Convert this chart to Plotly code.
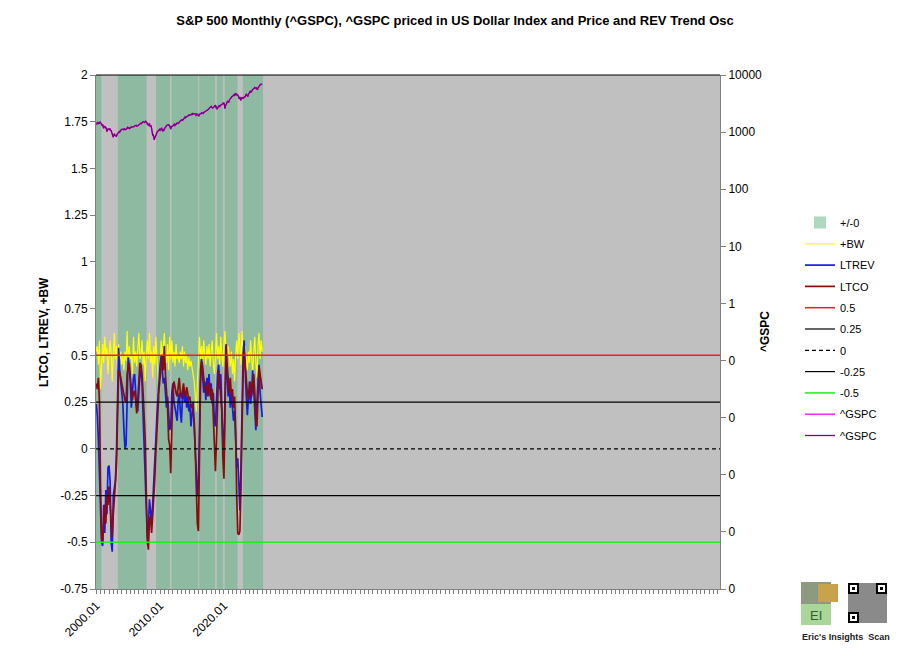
import plotly.graph_objects as go

# ---------------- DATA ----------------
# S&P 500 monthly closes, 2000.01 .. 2026.01 (month index 0 = 2000.01)
spx = [
    1394, 1366, 1499, 1452, 1421, 1455, 1431, 1518, 1437, 1429, 1315, 1320,
    1366, 1240, 1160, 1249, 1256, 1224, 1211, 1134, 1041, 1060, 1139, 1148,
    1130, 1107, 1147, 1077, 1067, 990, 912, 916, 815, 886, 936, 880,
    856, 841, 848, 917, 964, 975, 990, 1008, 996, 1051, 1058, 1112,
    1131, 1145, 1126, 1107, 1121, 1141, 1102, 1104, 1115, 1130, 1174, 1212,
    1181, 1204, 1181, 1157, 1192, 1191, 1234, 1220, 1229, 1207, 1249, 1248,
    1280, 1281, 1295, 1311, 1270, 1270, 1277, 1304, 1336, 1378, 1401, 1418,
    1438, 1407, 1421, 1482, 1531, 1503, 1455, 1474, 1527, 1549, 1481, 1468,
    1379, 1331, 1323, 1386, 1400, 1280, 1267, 1283, 1166, 969, 896, 903,
    826, 735, 798, 873, 919, 919, 987, 1021, 1057, 1036, 1096, 1115,
    1074, 1104, 1169, 1187, 1089, 1031, 1102, 1049, 1141, 1183, 1181, 1258,
    1286, 1327, 1326, 1364, 1345, 1321, 1292, 1219, 1131, 1253, 1247, 1258,
    1312, 1366, 1408, 1398, 1310, 1362, 1379, 1407, 1441, 1412, 1416, 1426,
    1498, 1515, 1569, 1598, 1631, 1606, 1686, 1633, 1682, 1757, 1806, 1848,
    1783, 1859, 1872, 1884, 1924, 1960, 1931, 2003, 1972, 2018, 2068, 2059,
    1995, 2105, 2068, 2086, 2107, 2063, 2104, 1972, 1920, 2079, 2080, 2044,
    1940, 1932, 2060, 2065, 2097, 2099, 2174, 2171, 2168, 2126, 2199, 2239,
    2279, 2364, 2363, 2384, 2412, 2423, 2470, 2472, 2519, 2575, 2648, 2674,
    2824, 2714, 2641, 2648, 2705, 2718, 2816, 2902, 2914, 2712, 2760, 2507,
    2704, 2784, 2834, 2946, 2752, 2942, 2980, 2926, 2977, 3038, 3141, 3231,
    3226, 2954, 2585, 2912, 3044, 3100, 3271, 3500, 3363, 3270, 3622, 3756,
    3714, 3811, 3973, 4181, 4204, 4298, 4395, 4523, 4308, 4605, 4567, 4766,
    4516, 4374, 4530, 4132, 4132, 3785, 4130, 3955, 3586, 3872, 4080, 3840,
    4077, 3970, 4109, 4169, 4180, 4450, 4589, 4508, 4288, 4194, 4568, 4770,
    4846, 5096, 5254, 5036, 5278, 5460, 5522, 5648, 5762, 5705, 6032, 5882,
    6041, 5955, 5612, 5569, 5912, 6205, 6339, 6460, 6688, 6840, 6849, 6846,
    6939,
]

# Oscillators read every 2 months (month 0, 2, 4, ...)
ltrev = [
    0.24, 0.18, 0.05, -0.12, -0.35, -0.50, -0.52, -0.30, -0.45, -0.22,
    -0.35, -0.10, -0.09, -0.17, -0.50, -0.55, -0.25, -0.20, -0.17, -0.02,
    0.30, 0.54, 0.42, 0.36, 0.30, 0.24, 0.10, 0.00, 0.02, 0.30,
    0.49, 0.44, 0.36, 0.22, 0.30, 0.38, 0.40, 0.30, 0.22, 0.20,
    0.30, 0.40, 0.42, 0.35, 0.18, 0.04, -0.10, -0.30, -0.48, -0.42,
    -0.27, -0.33, -0.40, -0.30, -0.20, -0.08, 0.05, 0.18, 0.28, 0.36,
    0.45, 0.50, 0.42, 0.35, 0.38, 0.30, 0.22, 0.28, 0.15, 0.10,
    0.12, 0.30, 0.35, 0.25, 0.22, 0.18, 0.15, 0.26, 0.30, 0.20,
    0.14, 0.27, 0.32, 0.25, 0.30, 0.22, 0.28, 0.20, 0.24, 0.12,
    0.18, 0.25, 0.13, 0.02, -0.15, -0.25, -0.18, 0.15, 0.42, 0.48,
    0.40, 0.30, 0.36, 0.26, 0.38, 0.32, 0.40, 0.28, 0.35, 0.24,
    0.30, 0.15, 0.12, 0.30, 0.40, 0.45, 0.32, 0.40, 0.22, 0.05,
    0.00, 0.35, 0.55, 0.38, 0.28, 0.34, 0.22, 0.30, 0.24, 0.15,
    0.20, 0.05, -0.10, -0.05, -0.25, -0.33, -0.10, 0.30, 0.50, 0.58,
    0.40, 0.28, 0.18, 0.30, 0.36, 0.24, 0.30, 0.42, 0.30, 0.14,
    0.10, 0.25, 0.40, 0.45, 0.30, 0.20, 0.17,
]
ltco = [
    0.35, 0.32, 0.38, 0.25, -0.20, -0.48, -0.50, -0.35, -0.30, -0.40,
    -0.25, -0.30, -0.20, -0.30, -0.42, -0.47, -0.35, -0.22, -0.18, -0.08,
    0.15, 0.42, 0.41, 0.38, 0.35, 0.33, 0.28, 0.26, 0.25, 0.40,
    0.44, 0.46, 0.38, 0.33, 0.26, 0.30, 0.31, 0.26, 0.19, 0.26,
    0.38, 0.46, 0.45, 0.40, 0.30, 0.17, 0.05, -0.22, -0.50, -0.54,
    -0.38, -0.36, -0.45, -0.36, -0.28, -0.16, -0.02, 0.12, 0.22, 0.32,
    0.38, 0.45, 0.50, 0.42, 0.55, 0.40, 0.30, 0.22, 0.05, 0.02,
    -0.13, 0.15, 0.32, 0.36, 0.32, 0.30, 0.28, 0.35, 0.38, 0.30,
    0.27, 0.31, 0.35, 0.30, 0.28, 0.33, 0.30, 0.26, 0.28, 0.22,
    0.24, 0.20, 0.15, 0.00, -0.20, -0.40, -0.44, 0.05, 0.35, 0.47,
    0.44, 0.38, 0.32, 0.30, 0.34, 0.28, 0.36, 0.30, 0.26, 0.32,
    0.20, 0.05, -0.12, 0.05, 0.30, 0.42, 0.36, 0.30, 0.20, -0.05,
    -0.16, 0.20, 0.56, 0.45, 0.35, 0.30, 0.38, 0.28, 0.32, 0.22,
    0.28, 0.10, -0.25, -0.45, -0.46, -0.44, -0.20, 0.15, 0.40, 0.52,
    0.45, 0.35, 0.30, 0.26, 0.32, 0.36, 0.28, 0.34, 0.40, 0.30,
    0.15, 0.12, 0.30, 0.44, 0.40, 0.35, 0.32,
]
plus_bw = [
    0.52, 0.55, 0.45, 0.58, 0.32, 0.50, 0.56, 0.46, 0.60, 0.50,
    0.54, 0.40, 0.48, 0.58, 0.52, 0.36, 0.50, 0.62, 0.48, 0.55,
    0.42, 0.56, 0.48, 0.52, 0.45, 0.50, 0.42, 0.52, 0.47, 0.63,
    0.45, 0.55, 0.48, 0.50, 0.40, 0.60, 0.46, 0.52, 0.44, 0.55,
    0.62, 0.48, 0.50, 0.58, 0.45, 0.52, 0.36, 0.50, 0.58, 0.48,
    0.62, 0.46, 0.52, 0.38, 0.55, 0.45, 0.60, 0.50, 0.35, 0.28,
    0.45, 0.58, 0.48, 0.55, 0.62, 0.50, 0.46, 0.56, 0.42, 0.60,
    0.48, 0.58, 0.46, 0.52, 0.44, 0.56, 0.48, 0.50, 0.46, 0.52,
    0.48, 0.55, 0.44, 0.52, 0.46, 0.50, 0.42, 0.49, 0.44, 0.47,
    0.42, 0.40, 0.36, 0.28, 0.20, 0.35, 0.52, 0.60, 0.48, 0.55,
    0.46, 0.58, 0.50, 0.45, 0.55, 0.48, 0.56, 0.44, 0.52, 0.58,
    0.46, 0.40, 0.50, 0.62, 0.48, 0.55, 0.45, 0.60, 0.50, 0.44,
    0.56, 0.63, 0.50, 0.46, 0.55, 0.48, 0.44, 0.52, 0.40, 0.48,
    0.36, 0.50, 0.58, 0.48, 0.62, 0.55, 0.45, 0.63, 0.50, 0.44,
    0.55, 0.48, 0.42, 0.52, 0.46, 0.58, 0.48, 0.40, 0.52, 0.60,
    0.46, 0.38, 0.55, 0.62, 0.48, 0.58, 0.52,
]

# Positive-regime ("+/-0") periods, month indices (inclusive)
band_start = [0, 41, 113, 142, 194, 227, 242, 276]
band_end = [9, 94, 138, 191, 223, 238, 265, 313]

# Horizontal reference levels
ref_names = ["0.5", "0.25", "0", "-0.25", "-0.5"]
ref_levels = [0.5, 0.25, 0.0, -0.25, -0.5]

# Tick labels
x_tick_months = [0, 120, 240]
x_tick_labels = ["2000.01", "2010.01", "2020.01"]
y_tick_vals = [2, 1.75, 1.5, 1.25, 1, 0.75, 0.5, 0.25, 0, -0.25, -0.5, -0.75]
y_tick_text = ["2", "1.75", "1.5", "1.25", "1", "0.75", "0.5", "0.25", "0", "-0.25", "-0.5", "-0.75"]
y2_tick_vals = [1e4, 1e3, 1e2, 1e1, 1, 1e-1, 1e-2, 1e-3, 1e-4, 1e-5]
y2_tick_text = ["10000", "1000", "100", "10", "1", "0", "0", "0", "0", "0"]

# ---------------- FIGURE ----------------
FONT = "Arial, Liberation Sans, sans-serif"
X_LO, X_HI = -0.5, 1172.5
Y_LO, Y_HI = -0.75, 2.0

# page body adds an 8px offset; margins below compensate
ML, MR, MT, MB = 88, 198, 67, 78
PW, PH = 910 - ML - MR, 659 - MT - MB          # 624 x 514
OX, OY = ML + 8, MT + 8                         # on-screen plot origin (96, 75)


def px(xs):
    return (xs - OX) / PW


def py(ys):
    return (OY + PH - ys) / PH


spx_months = list(range(len(spx)))
osc_months = list(range(0, 2 * len(ltrev), 2))

fig = go.Figure()

centers = [(s + e) / 2 for s, e in zip(band_start, band_end)]
widths = [e - s + 1 for s, e in zip(band_start, band_end)]
fig.add_trace(go.Bar(
    x=centers, y=[Y_HI - Y_LO] * len(centers), base=[Y_LO] * len(centers),
    width=widths, name="+/-0", legendgroup="g0",
    marker=dict(color="rgba(90,180,130,0.5)", line=dict(width=0)),
    hoverinfo="skip",
))

fig.add_trace(go.Scatter(x=osc_months, y=plus_bw, mode="lines", name="+BW", legendgroup="g1",
                         line=dict(color="#FFFF00", width=1.2)))
fig.add_trace(go.Scatter(x=osc_months, y=ltrev, mode="lines", name="LTREV", legendgroup="g2",
                         line=dict(color="#1A1AE6", width=1.7)))
fig.add_trace(go.Scatter(x=osc_months, y=ltco, mode="lines", name="LTCO", legendgroup="g3",
                         line=dict(color="#8B0A0A", width=1.7)))

ref_styles = [("#FF1A1A", "solid", 1.5), ("#000000", "solid", 1.2), ("#000000", "4px,3px", 1.2),
              ("#000000", "solid", 1.2), ("#1AF01A", "solid", 1.5)]
for i, (nm, lv) in enumerate(zip(ref_names, ref_levels)):
    col, dash, wd = ref_styles[i]
    fig.add_trace(go.Scatter(x=[X_LO, X_HI], y=[lv, lv], mode="lines", name=nm,
                             legendgroup="r%d" % i,
                             line=dict(color=col, width=wd, dash=dash)))

fig.add_trace(go.Scatter(x=spx_months, y=spx, mode="lines", name="^GSPC", legendgroup="s1",
                         yaxis="y2", line=dict(color="#FF00FF", width=1.3)))
fig.add_trace(go.Scatter(x=spx_months, y=spx, mode="lines", name="^GSPC", legendgroup="s2",
                         yaxis="y2", line=dict(color="#800080", width=1.3)))

x_tickvals = list(range(0, int(X_HI), 8))
x_ticktext = [x_tick_labels[x_tick_months.index(v)] if v in x_tick_months else "" for v in x_tickvals]

tickfont = dict(size=12, family=FONT, color="black")
fig.update_layout(
    width=910, height=659,
    margin=dict(l=ML, r=MR, t=MT, b=MB, autoexpand=False),
    paper_bgcolor="white", plot_bgcolor="#C0C0C0",
    font=dict(family=FONT, size=12, color="black"),
    title=dict(text="<b>S&P 500 Monthly (^GSPC), ^GSPC priced in US Dollar Index and Price and REV Trend Osc</b>",
               x=(455 - 8) / 910, xref="container", xanchor="center",
               y=1 - (20 - 8) / 659, yanchor="middle",
               font=dict(family=FONT, size=13, color="black")),
    showlegend=True,
    legend=dict(x=px(800), y=py(208), xanchor="left", yanchor="top", bgcolor="rgba(0,0,0,0)",
                font=dict(family=FONT, size=11, color="black"), tracegroupgap=2.3,
                itemwidth=30, traceorder="grouped"),
    barmode="overlay",
    xaxis=dict(range=[X_LO, X_HI], showgrid=False, zeroline=False, showline=True,
               linecolor="#808080", linewidth=1, ticks="outside", ticklen=4,
               tickcolor="#808080", tickvals=x_tickvals, ticktext=x_ticktext,
               tickangle=-45, tickfont=tickfont),
    yaxis=dict(range=[Y_LO, Y_HI], showgrid=False, zeroline=False, showline=True,
               linecolor="#808080", linewidth=1, ticks="outside", ticklen=5,
               tickcolor="#808080", tickvals=y_tick_vals, ticktext=y_tick_text,
               tickfont=tickfont),
    yaxis2=dict(type="log", range=[-5, 4], overlaying="y", side="right",
                showgrid=False, zeroline=False, showline=True, linecolor="#808080",
                linewidth=1, ticks="outside", ticklen=5, tickcolor="#808080",
                tickvals=y2_tick_vals, ticktext=y2_tick_text, tickfont=tickfont),
)

# Plot frame top border
fig.add_shape(type="line", xref="paper", yref="paper", x0=0, x1=1, y0=1, y1=1,
              line=dict(color="black", width=1))

# Axis titles
fig.add_annotation(text="<b>LTCO, LTREV, +BW</b>", xref="paper", yref="paper",
                   x=px(44), y=0.5, xanchor="center", yanchor="middle",
                   textangle=-90, showarrow=False,
                   font=dict(family=FONT, size=12, color="black"))
fig.add_annotation(text="<b>^GSPC</b>", xref="paper", yref="paper",
                   x=px(765), y=0.5, xanchor="center", yanchor="middle",
                   textangle=-90, showarrow=False,
                   font=dict(family=FONT, size=12, color="black"))

# Logo block (bottom right)
def rect(x0, x1, y0, y1, color):
    fig.add_shape(type="rect", xref="paper", yref="paper",
                  x0=px(x0), x1=px(x1), y0=py(y1), y1=py(y0),
                  fillcolor=color, line=dict(width=0), layer="above")


rect(801, 831, 582, 625, "#A9D79A")
rect(801, 831, 582, 604, "#8E9A80")
rect(818, 838, 584, 602, "#C9A24E")
fig.add_annotation(text="EI", xref="paper", yref="paper", x=px(816), y=py(615),
                   xanchor="center", yanchor="middle",
                   showarrow=False, font=dict(family=FONT, size=13, color="#2F5F2F"))
rect(848, 887, 583, 623, "#8A8A8A")
for fx, fy in [(848, 583), (876, 583), (848, 612)]:
    rect(fx, fx + 11, fy, fy + 11, "#000000")
    rect(fx + 2, fx + 9, fy + 2, fy + 9, "#FFFFFF")
    rect(fx + 4, fx + 7, fy + 4, fy + 7, "#000000")
fig.add_annotation(text="<b>Eric's Insights  Scan</b>", xref="paper", yref="paper",
                   x=px(846), y=py(637), xanchor="center", yanchor="middle", showarrow=False,
                   font=dict(family=FONT, size=9, color="#222222"))

fig.write_html("out.html")
